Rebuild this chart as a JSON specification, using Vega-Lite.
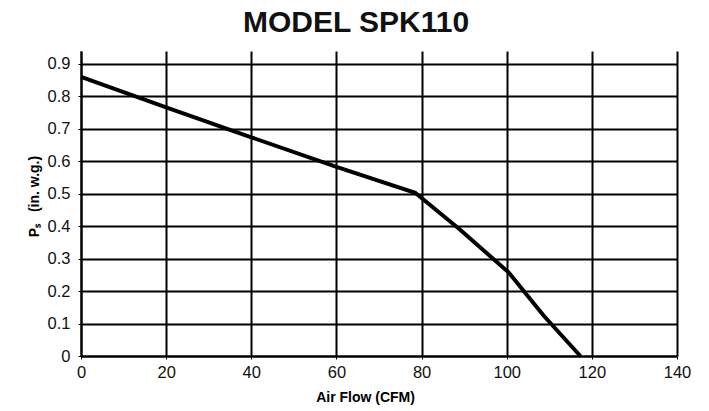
{
  "$schema": "https://vega.github.io/schema/vega-lite/v6.json",
  "width": 596,
  "height": 305,
  "autosize": {"type": "none"},
  "padding": {"left": 81, "top": 51, "right": 32, "bottom": 55},
  "background": "white",
  "title": {
    "text": "MODEL SPK110",
    "font": "Liberation Sans",
    "fontSize": 30,
    "fontWeight": "bold",
    "color": "#111",
    "anchor": "middle",
    "frame": "group",
    "dx": -23,
    "offset": 13
  },
  "data": {
    "values": [
      {"cfm": 0, "ps": 0.86},
      {"cfm": 20, "ps": 0.766},
      {"cfm": 40, "ps": 0.674},
      {"cfm": 60, "ps": 0.583},
      {"cfm": 78.5, "ps": 0.503},
      {"cfm": 89, "ps": 0.39},
      {"cfm": 100.5, "ps": 0.257},
      {"cfm": 108.7, "ps": 0.124},
      {"cfm": 117.3, "ps": 0}
    ]
  },
  "mark": {"type": "line", "color": "black", "strokeWidth": 4, "strokeJoin": "miter"},
  "encoding": {
    "x": {
      "field": "cfm",
      "type": "quantitative",
      "scale": {"domain": [0, 140], "nice": false},
      "axis": {
        "values": [0, 20, 40, 60, 80, 100, 120, 140],
        "title": "Air Flow (CFM)",
        "titleFont": "Liberation Sans",
        "titleFontSize": 14,
        "titleFontWeight": "bold",
        "titleColor": "black",
        "titlePadding": 10,
        "titleX": 284,
        "labelFont": "Liberation Sans",
        "labelFontSize": 16.5,
        "labelColor": "#111",
        "labelPadding": 5,
        "labelFlush": false,
        "tickSize": 3,
        "tickColor": "black",
        "domainColor": "black",
        "domainWidth": 2,
        "gridColor": "black",
        "gridWidth": 2,
        "gridOpacity": 1
      }
    },
    "y": {
      "field": "ps",
      "type": "quantitative",
      "scale": {"domain": [0, 0.94], "nice": false},
      "axis": {
        "values": [0, 0.1, 0.2, 0.3, 0.4, 0.5, 0.6, 0.7, 0.8, 0.9],
        "labelExpr": "datum.value == 0 ? '0' : format(datum.value, '.1f')",
        "title": "Pₛ\u00a0\u00a0\u00a0(in. w.g.)",
        "titleFont": "Liberation Sans",
        "titleFontSize": 14,
        "titleFontWeight": "bold",
        "titleColor": "black",
        "titlePadding": 6,
        "titleY": 145,
        "labelFont": "Liberation Sans",
        "labelFontSize": 16.5,
        "labelColor": "#111",
        "labelPadding": 8,
        "labelFlush": false,
        "tickSize": 3,
        "tickColor": "black",
        "domainColor": "black",
        "domainWidth": 2,
        "gridColor": "black",
        "gridWidth": 2,
        "gridOpacity": 1
      }
    }
  },
  "config": {"view": {"stroke": null}}
}
